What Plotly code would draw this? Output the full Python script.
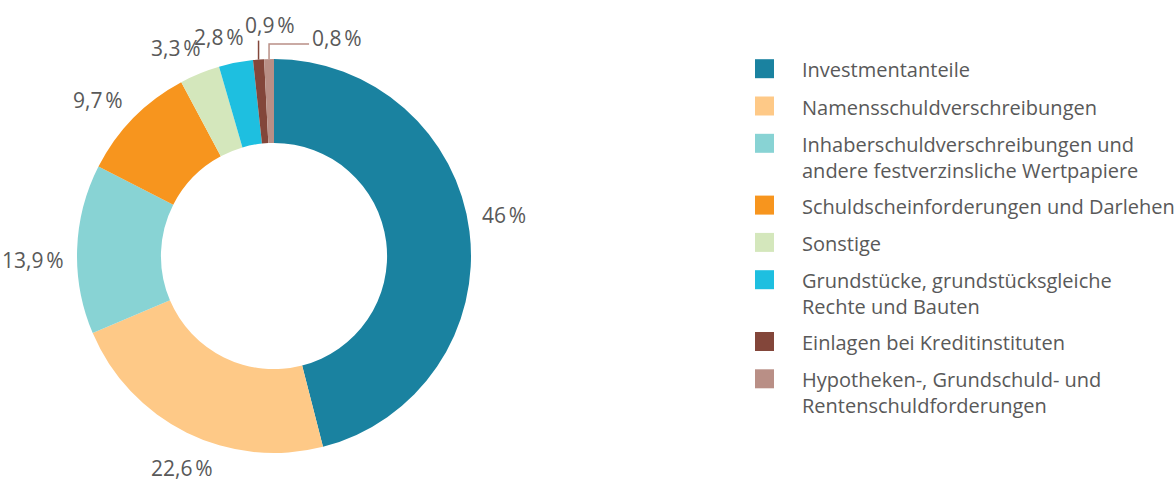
import math
import plotly.graph_objects as go

categories = [
    "Investmentanteile",
    "Namensschuldverschreibungen",
    "Inhaberschuldverschreibungen und<br>andere festverzinsliche Wertpapiere",
    "Schuldscheinforderungen und Darlehen",
    "Sonstige",
    "Grundstücke, grundstücksgleiche<br>Rechte und Bauten",
    "Einlagen bei Kreditinstituten",
    "Hypotheken-, Grundschuld- und<br>Rentenschuldforderungen",
]
values = [46, 22.6, 13.9, 9.7, 3.3, 2.8, 0.9, 0.8]
colors = ["#1a82a0", "#fec987", "#88d3d4", "#f7951e", "#d4e7bc", "#1ebfe0", "#83463a", "#b98f86"]

labels_text = [(f"{v:g}".replace(".", ",") + "\u202f%") for v in values]

W, H = 1175, 482
FONT = "Open Sans"
TXT = "#595959"
FS_LABEL = 21
FS_LEG = 20

# pie geometry (pixels)
cx, cy, R = 274, 256, 197
HOLE = 0.574
LABEL_GAP = 12            # gap between ring and label box
LABEL_ROT = -3            # degrees, small counter-clockwise shift of labels
LABEL_HALF_H = 11
SMALL_THRESHOLD = 1.0     # slices below this get a leader line
BOX_HALF = 1.3 * FS_LABEL / 2 + 0.5


def px(x):
    return x / W


def py(y):
    return 1 - y / H


def text_width(t, fs):
    w = 0.0
    for ch in t:
        if ch.isdigit():
            w += 0.572
        elif ch == ",":
            w += 0.26
        elif ch == "%":
            w += 0.84
        else:
            w += 0.2
    return w * fs


fig = go.Figure()
fig.add_trace(go.Pie(
    labels=[c.replace("<br>", " ") for c in categories],
    values=values,
    textinfo="none",
    hole=HOLE,
    sort=False,
    direction="clockwise",
    rotation=0,
    marker=dict(colors=colors, line=dict(width=0)),
    domain=dict(x=[px(cx - R), px(cx + R)], y=[py(cy + R), py(cy - R)]),
    showlegend=False,
    hoverinfo="label+percent",
))

shapes = []
annotations = []

# data labels, positioned from each slice's mid angle
total = sum(values)
cum = 0.0
small_rank = 0
for v, txt, col in zip(values, labels_text, colors):
    mid_deg = (cum + v / 2) / total * 360
    cum += v
    if v >= SMALL_THRESHOLD:
        a = math.radians(mid_deg + LABEL_ROT)
        sx, sy = math.sin(a), -math.cos(a)
        half_w = text_width(txt, FS_LABEL) / 2
        support = half_w * abs(sx) + LABEL_HALF_H * abs(sy)
        d = R + LABEL_GAP + support
        lx, ly = cx + d * sx, cy + d * sy
        ly = min(max(ly, BOX_HALF), H - BOX_HALF)
        lx = min(max(lx, half_w + 1), W - half_w - 1)
        annotations.append(dict(xref="paper", yref="paper", x=px(lx), y=py(ly),
                                xanchor="center", yanchor="middle", showarrow=False, borderpad=0,
                                text=txt, font=dict(family=FONT, size=FS_LABEL, color=TXT)))
    else:
        a = math.radians(mid_deg)
        sx, sy = math.sin(a), -math.cos(a)
        ex, ey = cx + R * sx, cy + R * sy
        if small_rank == 0:
            top = ey - 19
            shapes.append(dict(type="line", xref="paper", yref="paper",
                               x0=px(ex), y0=py(ey), x1=px(ex), y1=py(top),
                               line=dict(color=col, width=1.5)))
            annotations.append(dict(xref="paper", yref="paper", x=px(ex + 11), y=py(top - 16),
                                    xanchor="center", yanchor="middle", showarrow=False, borderpad=0,
                                    text=txt, font=dict(family=FONT, size=FS_LABEL, color=TXT)))
        else:
            top = ey - 15
            right = ex + 40
            shapes.append(dict(type="path", xref="paper", yref="paper",
                               path=f"M {px(ex)},{py(ey)} L {px(ex)},{py(top)} L {px(right)},{py(top)}",
                               line=dict(color=col, width=1.5)))
            annotations.append(dict(xref="paper", yref="paper", x=px(right + 2), y=py(top - 6),
                                    xanchor="left", yanchor="middle", showarrow=False, borderpad=0,
                                    text=txt, font=dict(family=FONT, size=FS_LABEL, color=TXT)))
        small_rank += 1

# legend drawn manually for exact sizing
LEG_MARK_X0, LEG_MARK = 755, 19
LEG_TEXT_X = 800
LEG_TOP = 68.7
LEG_STEP = 37.3
LEG_LINE = 24.5
LINE_H = 1.3 * FS_LEG
yc = LEG_TOP
for cat, col in zip(categories, colors):
    shapes.append(dict(type="rect", xref="paper", yref="paper",
                       x0=px(LEG_MARK_X0), x1=px(LEG_MARK_X0 + LEG_MARK),
                       y0=py(yc + LEG_MARK / 2), y1=py(yc - LEG_MARK / 2),
                       fillcolor=col, line=dict(width=0)))
    n = cat.count("<br>") + 1
    annotations.append(dict(xref="paper", yref="paper", x=px(LEG_TEXT_X),
                            y=py(yc + 1 + (n - 1) * LINE_H / 2),
                            xanchor="left", yanchor="middle", align="left", showarrow=False,
                            text=cat, font=dict(family=FONT, size=FS_LEG, color=TXT)))
    yc += LEG_STEP + (n - 1) * LEG_LINE

fig.update_layout(
    width=W, height=H,
    margin=dict(l=0, r=0, t=0, b=0, autoexpand=False),
    paper_bgcolor="white", plot_bgcolor="white",
    shapes=shapes, annotations=annotations,
    font=dict(family=FONT, size=FS_LEG, color=TXT),
    showlegend=False,
)
fig.write_html("out.html", config={"displayModeBar": False},
               post_script="document.body.style.margin='0px';")
